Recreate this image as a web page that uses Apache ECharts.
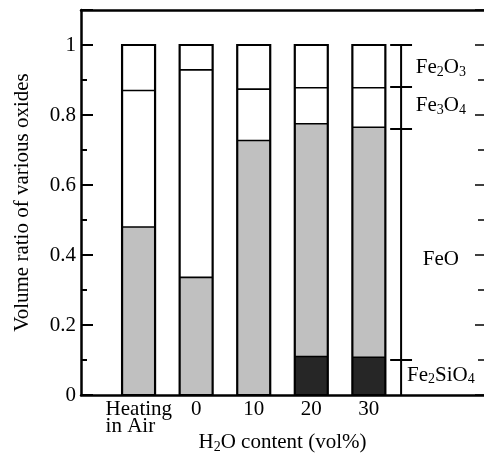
<!DOCTYPE html>
<html><head><meta charset="utf-8">
<script src="https://cdn.jsdelivr.net/npm/echarts@6/dist/echarts.min.js"></script>
<style>html,body{margin:0;padding:0;background:#fff}#c{width:484px;height:454px}</style>
</head><body><div id="c"></div>
<script>
// ---- data ----
var categories = ['Heating\nin Air', '0', '10', '20', '30'];
var fe2sio4 = [0, 0, 0, 0.11, 0.108];
var feo     = [0.48, 0.336, 0.727, 0.665, 0.657];
var fe3o4   = [0.39, 0.593, 0.147, 0.103, 0.113];
var fe2o3   = [0.13, 0.071, 0.126, 0.122, 0.122];
var yTicks  = [0, 0.2, 0.4, 0.6, 0.8, 1];
var bracketLevels = [1, 0.88, 0.76, 0.1];
var bracketLabels = [
  {name: 'Fe2O3', rich: '{n|Fe}{s|2}{n|O}{s|3}', y: 0.935},
  {name: 'Fe3O4', rich: '{n|Fe}{s|3}{n|O}{s|4}', y: 0.827},
  {name: 'FeO', rich: '{n|FeO}', y: 0.386},
  {name: 'Fe2SiO4', rich: '{n|Fe}{s|2}{n|SiO}{s|4}', y: 0.057}
];

var FONT = '"Liberation Serif", "Times New Roman", serif';
var FS = 21, SS = 14, BW = 33;
var axisCats = [''].concat(categories).concat(['', '']);
function pad(arr){ return [null].concat(arr).concat([null, null]); }

// outline data: [categoryIndex, level1, level2, level3, total]
var outlineData = categories.map(function(c, i){
  var a = fe2sio4[i], b = a + feo[i], d = b + fe3o4[i], t = d + fe2o3[i];
  return [i + 1, a, b, d, t];
});

var chart = echarts.init(document.getElementById('c'), null, {renderer: 'canvas'});
var segStyle = function(color){ return {color: color, borderWidth: 0}; };

var option = {
  animation: false,
  textStyle: {fontFamily: FONT},
  grid: {left: 81, right: 0, top: 10, bottom: 59, containLabel: false, outerBoundsMode: 'none'},
  xAxis: [{
    type: 'category', data: axisCats, boundaryGap: false,
    axisLine: {show: true, lineStyle: {color: '#000', width: 2.5}},
    axisTick: {show: false},
    axisLabel: {
      interval: 0, margin: 6, color: '#000', fontFamily: FONT, fontSize: FS, lineHeight: 17,
      formatter: function(v){
        if (v.indexOf('\n') >= 0) { var p = v.split('\n'); return '{l|' + p[0] + '}\n{l|' + p[1] + '}'; }
        return v;
      },
      rich: {l: {width: 66, align: 'left', fontFamily: FONT, fontSize: FS, lineHeight: 17, color: '#000'}}
    },
    name: '{n|H}{s|2}{n|O content (vol%)}', nameLocation: 'middle', nameGap: 36, nameMoveOverlap: false,
    nameTextStyle: {rich: {
      n: {fontFamily: FONT, fontSize: FS, color: '#000'},
      s: {fontFamily: FONT, fontSize: SS, color: '#000', verticalAlign: 'bottom', padding: [9, 0, 0, 0]}
    }},
    splitLine: {show: false}
  }, {
    type: 'value', min: 0, max: 7, position: 'top',
    axisLine: {show: true, onZero: false, lineStyle: {color: '#000', width: 2.5}},
    axisTick: {show: false}, axisLabel: {show: false}, splitLine: {show: false}
  }],
  yAxis: [{
    type: 'value', min: 0, max: 1.1, interval: 0.2,
    axisLine: {show: true, lineStyle: {color: '#000', width: 2.5}},
    axisTick: {show: true, inside: true, length: 12, lineStyle: {color: '#000', width: 2}},
    minorTick: {show: true, splitNumber: 2, length: 6, lineStyle: {color: '#000', width: 2}},
    axisLabel: {
      margin: 5, color: '#000', fontFamily: FONT, fontSize: FS,
      formatter: function(v){ var r = Math.round(v * 10) / 10; return yTicks.indexOf(r) >= 0 ? String(r) : ''; }
    },
    splitLine: {show: false},
    name: 'Volume ratio of various oxides', nameLocation: 'middle', nameGap: 48, nameRotate: 90,
    nameTextStyle: {fontFamily: FONT, fontSize: FS, color: '#000'}
  }, {
    type: 'value', min: 0, max: 1.1, interval: 0.2, position: 'right',
    axisLine: {show: false},
    axisTick: {show: true, inside: true, length: 9, lineStyle: {color: '#000', width: 1.5}},
    minorTick: {show: true, splitNumber: 2, length: 6, lineStyle: {color: '#000', width: 1.5}},
    axisLabel: {show: false}, splitLine: {show: false}
  }],
  series: [
    {name: 'Fe2SiO4', type: 'bar', stack: 's', barWidth: BW, data: pad(fe2sio4), itemStyle: segStyle('#262626')},
    {name: 'FeO', type: 'bar', stack: 's', barWidth: BW, data: pad(feo), itemStyle: segStyle('#c0c0c0')},
    {name: 'Fe3O4', type: 'bar', stack: 's', barWidth: BW, data: pad(fe3o4), itemStyle: segStyle('#ffffff')},
    {name: 'Fe2O3', type: 'bar', stack: 's', barWidth: BW, data: pad(fe2o3), itemStyle: segStyle('#ffffff')},
    {
      name: 'outline', type: 'custom', xAxisIndex: 0, yAxisIndex: 0, data: outlineData, silent: true, z: 4,
      renderItem: function(params, api){
        var x = api.value(0);
        var p0 = api.coord([x, 0]);
        var pt = api.coord([x, api.value(4)]);
        var l = p0[0] - BW / 2, r = p0[0] + BW / 2;
        var children = [{type: 'rect', shape: {x: l, y: pt[1], width: BW, height: p0[1] - pt[1]},
          style: {fill: 'none', stroke: '#000', lineWidth: 2.2}}];
        [1, 2, 3].forEach(function(k){
          var v = api.value(k);
          if (v <= 0) return;
          var y = api.coord([x, v])[1];
          children.push({type: 'line', shape: {x1: l, y1: y, x2: r, y2: y}, style: {stroke: '#000', lineWidth: 1.6}});
        });
        return {type: 'group', children: children};
      }
    },
    {
      name: 'bracket', type: 'custom', xAxisIndex: 1, yAxisIndex: 0, data: [[0, 0]], silent: true, z: 5,
      renderItem: function(params, api){
        var children = [];
        var xv = 5.56, xl = 5.37, xr = 5.75, xt = 6.25;
        var top = api.coord([xv, bracketLevels[0]]);
        var bot = api.coord([xv, 0]);
        children.push({type: 'line', shape: {x1: top[0], y1: top[1], x2: bot[0], y2: bot[1]}, style: {stroke: '#000', lineWidth: 2}});
        bracketLevels.forEach(function(v){
          var a = api.coord([xl, v]), b = api.coord([xr, v]);
          children.push({type: 'line', shape: {x1: a[0], y1: a[1], x2: b[0], y2: b[1]}, style: {stroke: '#000', lineWidth: 2}});
        });
        bracketLabels.forEach(function(l){
          var p = api.coord([xt, l.y]);
          children.push({type: 'text', x: p[0], y: p[1], style: {
            text: l.rich, align: 'center', verticalAlign: 'middle',
            rich: {
              n: {fontFamily: FONT, fontSize: FS, fill: '#000'},
              s: {fontFamily: FONT, fontSize: SS, fill: '#000', verticalAlign: 'bottom', padding: [9, 0, 0, 0]}
            }
          }});
        });
        return {type: 'group', children: children};
      }
    }
  ]
};
chart.setOption(option);
</script>
</body></html>
